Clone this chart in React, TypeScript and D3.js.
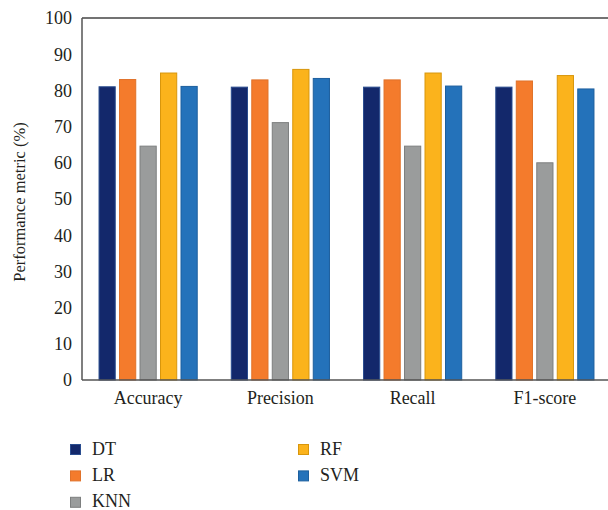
import React from "react";
import * as d3 from "d3";

const categories = ["Accuracy", "Precision", "Recall", "F1-score"];
const seriesNames = ["DT", "LR", "KNN", "RF", "SVM"];
const dtValues = [81.0, 80.9, 80.9, 80.9];
const lrValues = [83.0, 82.9, 82.9, 82.6];
const knnValues = [64.6, 71.1, 64.6, 60.0];
const rfValues = [84.8, 85.8, 84.8, 84.1];
const svmValues = [81.1, 83.3, 81.2, 80.4];
const yTicks = [0, 10, 20, 30, 40, 50, 60, 70, 80, 90, 100];

const fills = ["#13286b", "#f47b2c", "#9a9c9c", "#fbb31c", "#2472ba"];
const strokes = ["#2a4d8f", "#e0722a", "#7d7f7f", "#d8960c", "#1d5f9e"];

export default function App() {
  const W = 608, H = 510;
  const left = 82, right = 611, top = 18, bottom = 380;
  const series = [dtValues, lrValues, knnValues, rfValues, svmValues];
  const x0 = d3.scaleBand<string>().domain(categories).range([left, right]).paddingInner(0.25).paddingOuter(0.125);
  const x1 = d3.scaleBand<string>().domain(seriesNames).range([0, x0.bandwidth()]).paddingInner(0.16);
  const y = d3.scaleLinear().domain([0, 100]).range([bottom, top]);
  const font = "'Liberation Serif', 'Times New Roman', serif";

  const legendItems = seriesNames.map((name, i) => {
    const col = i < 3 ? 0 : 1;
    const row = i < 3 ? i : i - 3;
    return { name, i, x: col === 0 ? 70 : 298, y: 444 + row * 26.4 };
  });

  return (
    <svg width={W} height={H} style={{ position: "absolute", left: 0, top: 0, background: "#fff" }}>
      {categories.map((c, ci) => (
        <g key={c} transform={`translate(${x0(c)},0)`}>
          {series.map((vals, si) => (
            <rect
              key={si}
              x={x1(seriesNames[si])! + 0.5}
              y={y(vals[ci])}
              width={x1.bandwidth() - 1}
              height={bottom - y(vals[ci])}
              fill={fills[si]}
              stroke={strokes[si]}
              strokeWidth={1}
            />
          ))}
        </g>
      ))}
      <line x1={left} x2={W} y1={top} y2={top} stroke="#444" strokeWidth={1.5} />
      <line x1={left} x2={left} y1={top} y2={bottom} stroke="#555" strokeWidth={1.5} />
      <line x1={left} x2={W} y1={bottom} y2={bottom} stroke="#555" strokeWidth={1.5} />
      {yTicks.map((t) => (
        <text key={t} x={72} y={y(t)} dy="0.35em" textAnchor="end" fontFamily={font} fontSize={18} fill="#231f20">
          {t}
        </text>
      ))}
      {categories.map((c) => (
        <text key={c} x={x0(c)! + x0.bandwidth() / 2} y={404} textAnchor="middle" fontFamily={font} fontSize={18} fill="#231f20">
          {c}
        </text>
      ))}
      <text
        transform={`translate(25,${(top + bottom) / 2 + 3}) rotate(-90)`}
        textAnchor="middle"
        fontFamily={font}
        fontSize={16.5}
        fill="#231f20"
      >
        Performance metric (%)
      </text>
      {legendItems.map((it) => (
        <g key={it.name}>
          <rect x={it.x + 0.5} y={it.y + 0.5} width={10} height={10} fill={fills[it.i]} stroke={strokes[it.i]} strokeWidth={1} />
          <text x={it.x + 22} y={it.y + 10.5} fontFamily={font} fontSize={18} fill="#231f20">
            {it.name}
          </text>
        </g>
      ))}
    </svg>
  );
}
